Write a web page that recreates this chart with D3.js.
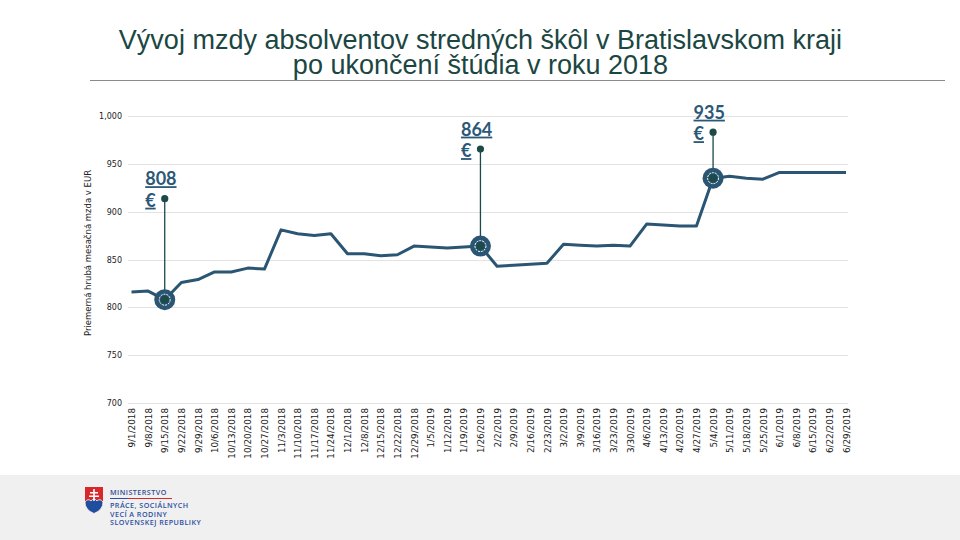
<!DOCTYPE html>
<meta charset="utf-8">
<style>
  body { margin: 0; background: #fff; }
  svg { display: block; }
</style>
<script src="https://d3js.org/d3.v7.min.js"></script>
<div id="chart"></div>
<script>
// weekly dates (x categories)
var dates = [
  "9/1/2018", "9/8/2018", "9/15/2018", "9/22/2018", "9/29/2018",
  "10/6/2018", "10/13/2018", "10/20/2018", "10/27/2018",
  "11/3/2018", "11/10/2018", "11/17/2018", "11/24/2018",
  "12/1/2018", "12/8/2018", "12/15/2018", "12/22/2018", "12/29/2018",
  "1/5/2019", "1/12/2019", "1/19/2019", "1/26/2019",
  "2/2/2019", "2/9/2019", "2/16/2019", "2/23/2019",
  "3/2/2019", "3/9/2019", "3/16/2019", "3/23/2019", "3/30/2019",
  "4/6/2019", "4/13/2019", "4/20/2019", "4/27/2019",
  "5/4/2019", "5/11/2019", "5/18/2019", "5/25/2019",
  "6/1/2019", "6/8/2019", "6/15/2019", "6/22/2019", "6/29/2019"
];

// average gross monthly wage, EUR
var wages = [
  816, 817, 808, 826, 829,
  837, 837, 841, 840,
  881, 877, 875, 877,
  856, 856, 854, 855, 864,
  863, 862, 863, 864,
  843, 844, 845, 846,
  866, 865, 864, 865, 864,
  887, 886, 885, 885,
  935, 937, 935, 934,
  941, 941, 941, 941, 941
];

var yTicks = [700, 750, 800, 850, 900, 950, 1000];

// highlighted points
var highlights = ["9/15/2018", "1/26/2019", "5/4/2019"];
var highlightLabels = ["808", "864", "935"];
var highlightLift = [101, 97, 46];

var W = 960, H = 540;
var lineColor = "#2a5573", darkGreen = "#1b4a48", labelColor = "#2c5878";

var svg = d3.select("#chart").append("svg")
    .attr("width", W)
    .attr("height", H);

// title, two lines
var titleLines = ["Vývoj mzdy absolventov stredných škôl v Bratislavskom kraji", "po ukončení štúdia v roku 2018"];
titleLines.forEach(function(s, k) {
    svg.append("text")
        .attr("x", 480.5)
        .attr("y", 49 + k * 25)
        .attr("text-anchor", "middle")
        .style("font-family", "'Liberation Sans', Arial, sans-serif")
        .style("font-size", "27px")
        .attr("fill", "#1b4642")
        .text(s);
});

svg.append("line")
    .attr("x1", 90).attr("x2", 945)
    .attr("y1", 80.5).attr("y2", 80.5)
    .attr("stroke", "#8a8a8a")
    .attr("stroke-width", 1);

// scales
var x = d3.scalePoint()
    .domain(dates)
    .range([131.5, 846]);

var y = d3.scaleLinear()
    .domain([700, 1000])
    .range([403, 116]);

// gridlines
svg.append("g")
    .selectAll("line")
    .data(yTicks)
    .enter()
    .append("line")
    .attr("x1", 128).attr("x2", 848)
    .attr("y1", function(d) { return Math.round(y(d)) + 0.5; })
    .attr("y2", function(d) { return Math.round(y(d)) + 0.5; })
    .attr("stroke", "#e3e3e3")
    .attr("stroke-width", 1);

// y axis
var yAxis = svg.append("g")
    .attr("transform", "translate(122,0)")
    .call(d3.axisLeft(y).tickValues(yTicks).tickSize(0).tickPadding(0).tickFormat(d3.format(",")));
yAxis.select(".domain").remove();
yAxis.selectAll("text")
    .style("font-family", "'DejaVu Sans', Verdana, sans-serif")
    .style("font-size", "8px")
    .attr("fill", "#222");

svg.append("text")
    .attr("transform", "translate(91,253) rotate(-90)")
    .attr("text-anchor", "middle")
    .style("font-family", "'DejaVu Sans', Verdana, sans-serif")
    .style("font-size", "8.5px")
    .attr("fill", "#222")
    .text("Priemerná hrubá mesačná mzda v EUR");

// x axis
var xAxis = svg.append("g")
    .attr("transform", "translate(0,406)")
    .call(d3.axisBottom(x).tickSize(0).tickPadding(0));
xAxis.select(".domain").remove();
xAxis.selectAll(".tick text")
    .attr("transform", "rotate(-90)")
    .attr("x", -2)
    .attr("y", 0)
    .attr("dy", "0.35em")
    .style("text-anchor", "end")
    .style("font-family", "'DejaVu Sans', Verdana, sans-serif")
    .style("font-size", "8.8px")
    .attr("fill", "#222");

// line
var line = d3.line()
    .x(function(d, i) { return x(dates[i]); })
    .y(function(d) { return y(d); });

svg.append("path")
    .datum(wages)
    .attr("d", line)
    .attr("fill", "none")
    .attr("stroke", lineColor)
    .attr("stroke-width", 3)
    .attr("stroke-linejoin", "round");

// annotations
highlights.forEach(function(date, k) {
    var i = dates.indexOf(date);
    var cx = x(date), cy = y(wages[i]);
    var dotY = cy - highlightLift[k];

    svg.append("line")
        .attr("x1", cx).attr("x2", cx)
        .attr("y1", dotY).attr("y2", cy)
        .attr("stroke", darkGreen)
        .attr("stroke-width", 1.3);

    svg.append("circle").attr("cx", cx).attr("cy", cy).attr("r", 10.5).attr("fill", lineColor);
    svg.append("circle").attr("cx", cx).attr("cy", cy).attr("r", 5.5)
        .attr("fill", "none").attr("stroke", "#ffffff").attr("stroke-width", 1)
        .attr("stroke-dasharray", "2,1");
    svg.append("circle").attr("cx", cx).attr("cy", cy).attr("r", 4).attr("fill", darkGreen);

    svg.append("circle").attr("cx", cx).attr("cy", dotY).attr("r", 3.6).attr("fill", darkGreen);

    var t = svg.append("text")
        .style("font-family", "Lato, 'Open Sans', sans-serif")
        .style("font-weight", "bold")
        .style("font-size", "18px")
        .style("text-decoration", "underline")
        .attr("fill", labelColor);
    t.append("tspan").attr("x", cx - 19.5).attr("y", dotY - 13.5).text(highlightLabels[k]);
    t.append("tspan").attr("x", cx - 19.5).attr("y", dotY + 8).text("€");
});

// footer band
svg.append("rect")
    .attr("x", 0).attr("y", 475)
    .attr("width", W).attr("height", H - 475)
    .attr("fill", "#f0f0f0");

// ministry logo
var logo = svg.append("g");
logo.append("path")
    .attr("d", "M85,487 L103,487 L103,502 Q103,510 94,513.5 Q85,510 85,502 Z")
    .attr("fill", "#d8282c");
logo.append("path")
    .attr("d", "M85,502 Q88,498 91,501 Q94,497 97,501 Q100,498 103,502 Q103,510 94,513.5 Q85,510 85,502 Z")
    .attr("fill", "#1f4e9e")
    .attr("stroke", "#ffffff")
    .attr("stroke-width", 0.8);
logo.append("path")
    .attr("d", "M93.2,489 h1.6 v12 h-1.6 Z M90,492 h8 v1.4 h-8 Z M89,495.5 h10 v1.5 h-10 Z")
    .attr("fill", "#ffffff");

var logoText = ["MINISTERSTVO", "PRÁCE, SOCIÁLNYCH", "VECÍ A RODINY", "SLOVENSKEJ REPUBLIKY"];
var logoY = [495, 508, 516.5, 525];
logoText.forEach(function(s, k) {
    logo.append("text")
        .attr("x", 110)
        .attr("y", logoY[k])
        .style("font-family", "'Open Sans', sans-serif")
        .style("font-size", "7.2px")
        .style("font-weight", 600)
        .style("letter-spacing", "0.45px")
        .attr("fill", k == 0 ? "#334d8f" : "#2c4fa0")
        .text(s);
});
logo.append("line").attr("x1", 110).attr("x2", 128).attr("y1", 498.5).attr("y2", 498.5)
    .attr("stroke", "#2c4fa0").attr("stroke-width", 1);
logo.append("line").attr("x1", 128).attr("x2", 172).attr("y1", 498.5).attr("y2", 498.5)
    .attr("stroke", "#d8282c").attr("stroke-width", 1);
</script>
